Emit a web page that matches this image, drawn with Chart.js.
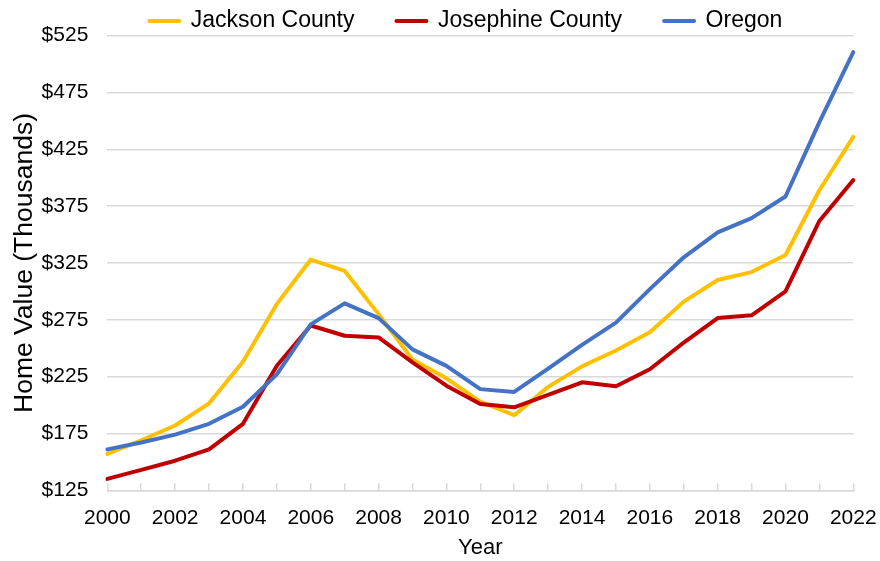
<!DOCTYPE html>
<html>
<head>
<meta charset="utf-8">
<script src="https://cdn.jsdelivr.net/npm/chart.js@4/dist/chart.umd.min.js"></script>
<style>
  html, body { margin: 0; padding: 0; background: #ffffff; }
  #c { display: block; }
</style>
</head>
<body>
<canvas id="c" width="880" height="561"></canvas>
<script>
// ---- Data ----
const years = ['2000','2001','2002','2003','2004','2005','2006','2007','2008','2009','2010',
               '2011','2012','2013','2014','2015','2016','2017','2018','2019','2020','2021','2022'];
const xTickLabels = ['2000','2002','2004','2006','2008','2010','2012','2014','2016','2018','2020','2022'];
const yTickValues = [125, 175, 225, 275, 325, 375, 425, 475, 525];

const jacksonCounty   = [157, 169, 182, 201.5, 238, 289, 328, 318, 280, 240, 223.5, 203, 191, 216, 234, 248, 264, 291, 310, 317, 332, 389, 436];
const josephineCounty = [135, 143, 151, 161, 183.5, 234.5, 270, 261, 259.5, 237.5, 217, 201, 198, 209, 220, 216.5, 231.5, 255, 276.5, 279, 300, 362, 398];
const oregon          = [161, 167, 174, 183.5, 198.5, 227, 271, 289.5, 276.5, 249, 234.5, 214, 211.5, 232, 253, 272.5, 302, 330, 352, 364.5, 383.5, 449, 510.5];

const seriesNames  = ['Jackson County', 'Josephine County', 'Oregon'];
const seriesColors = ['#FFC000', '#C00000', '#4472C4'];

// ---- Chart ----
const FONT = "'Liberation Sans', Arial, 'DejaVu Sans', sans-serif";
const GRID = '#d9d9d9';

function lineDataset(label, data, color, order) {
  return {
    label: label,
    data: data,
    borderColor: color,
    backgroundColor: color,
    borderWidth: 4,
    pointRadius: 0,
    pointHoverRadius: 0,
    tension: 0,
    borderJoinStyle: 'round',
    borderCapStyle: 'round',
    fill: false,
    order: order
  };
}

new Chart(document.getElementById('c'), {
  type: 'line',
  data: {
    labels: years,
    datasets: [
      lineDataset(seriesNames[0], jacksonCounty, seriesColors[0], 2),
      lineDataset(seriesNames[1], josephineCounty, seriesColors[1], 1),
      lineDataset(seriesNames[2], oregon, seriesColors[2], 0)
    ]
  },
  options: {
    responsive: false,
    animation: false,
    events: [],
    layout: { padding: { left: 8.6, right: 26.7, top: -32.5, bottom: 0 } },
    plugins: {
      legend: {
        position: 'top',
        align: 'start',
        fullSize: false,
        maxHeight: 68.2,
        labels: {
          boxWidth: 30,
          boxHeight: 0,
          padding: 42,
          color: '#000000',
          font: { family: FONT, size: 23 },
          sort: (a, b) => a.datasetIndex - b.datasetIndex
        }
      },
      tooltip: { enabled: false },
      title: { display: false }
    },
    scales: {
      x: {
        type: 'category',
        offset: false,
        grid: {
          drawOnChartArea: false,
          drawTicks: true,
          tickLength: -7,
          color: GRID,
          lineWidth: 1.5
        },
        border: { display: true, color: GRID, width: 1.5 },
        ticks: {
          autoSkip: false,
          maxRotation: 0,
          minRotation: 0,
          padding: 3.3,
          color: '#000000',
          font: { family: FONT, size: 21, lineHeight: 3.03 },
          callback: function (value, index) {
            const lab = this.getLabelForValue(value);
            return xTickLabels.includes(lab) ? lab : '';
          }
        },
        title: {
          display: true,
          text: 'Year',
          color: '#000000',
          font: { family: FONT, size: 22 },
          padding: { top: -18.9, bottom: 0 }
        }
      },
      y: {
        min: yTickValues[0],
        max: yTickValues[yTickValues.length - 1],
        afterBuildTicks: (scale) => { scale.ticks = yTickValues.map(v => ({ value: v })); },
        grid: {
          drawTicks: false,
          color: GRID,
          lineWidth: 1.5
        },
        border: { display: false },
        ticks: {
          padding: 19,
          color: '#000000',
          font: { family: FONT, size: 21 },
          callback: (v) => '$' + v
        },
        title: {
          display: true,
          text: 'Home Value (Thousands)',
          color: '#000000',
          font: { family: FONT, size: 26.5 },
          padding: { top: 0, bottom: -17.8 }
        }
      }
    }
  }
});
</script>
</body>
</html>
